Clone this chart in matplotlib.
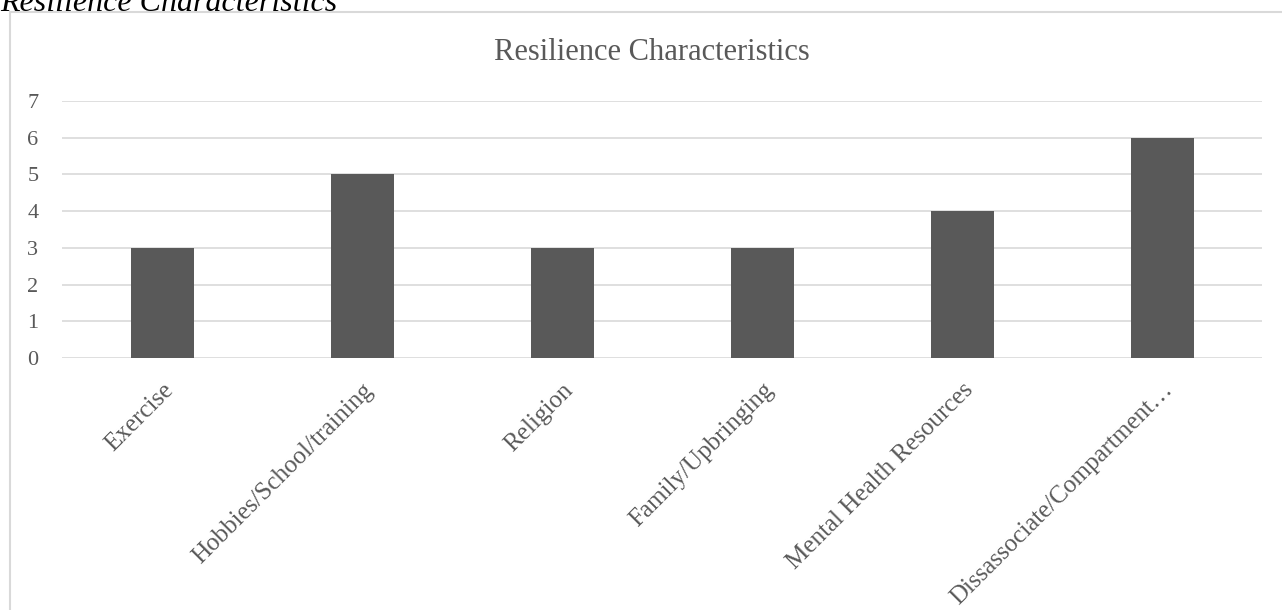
import matplotlib.pyplot as plt
from matplotlib.patches import Rectangle

# data
categories = ["Exercise", "Hobbies/School/training", "Religion",
              "Family/Upbringing", "Mental Health Resources",
              "Dissassociate/Compartment\u2026"]
counts = [3, 5, 3, 3, 4, 6]

plt.rcParams['font.family'] = ['Liberation Serif', 'DejaVu Serif']
grey = "#595959"

fig = plt.figure(figsize=(12.82, 6.10), dpi=100)

# chart frame
fig.patches.append(Rectangle((10/1282, -0.1), 1.1, 1 - 12/610 + 0.1,
                             transform=fig.transFigure, fill=False,
                             edgecolor="#d9d9d9", linewidth=1.5))

# caption cut off at the top
fig.text(0, 1 - 11/610, "Resilience Characteristics", fontsize=23,
         style="italic", color="black", ha="left", va="baseline")

ax = fig.add_axes([62/1282, 1 - 358/610, 1200/1282, 257/610])
x = range(len(categories))
ax.bar(x, counts, width=0.315, color=grey, zorder=3)

ax.set_xlim(-0.5, len(categories) - 0.5)
ax.set_ylim(0, 7)
ax.set_yticks(range(0, 8))
ax.grid(axis="y", color="#d9d9d9", linewidth=1.2, zorder=0)
for s in ax.spines.values():
    s.set_visible(False)
ax.tick_params(length=0, labelsize=16, colors=grey, pad=17)
ax.tick_params(axis="x", pad=15, labelsize=18)
ax.set_xticks(list(x))
ax.set_xticklabels(categories, rotation=45, ha="right", va="top",
                   rotation_mode="anchor")

fig.text(652/1282, 1 - 52/610, "Resilience Characteristics", fontsize=22,
         color=grey, ha="center", va="center")

fig.savefig("out.png", dpi=100)
